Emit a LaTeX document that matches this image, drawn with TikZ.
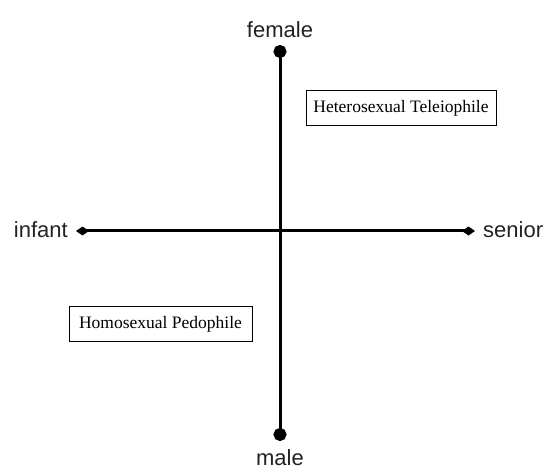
\documentclass[tikz,border=0pt]{standalone}
\usepackage{fontspec}
\setmainfont{Liberation Serif}
\setsansfont{Liberation Sans}
\usetikzlibrary{arrows.meta}
\definecolor{ink}{HTML}{222222}
\begin{document}
\begin{tikzpicture}[x=1pt,y=-1pt,
  axis/.style={line width=3pt},
  lbl/.style={font=\sffamily\fontsize{22}{26}\selectfont, text=ink, inner sep=0pt},
  quad/.style={draw, line width=0.7pt, font=\fontsize{17.5}{20}\selectfont, minimum height=35pt, inner sep=0pt}]
\useasboundingbox (0,0) rectangle (544,468);
\coordinate (top) at (280,45);
\coordinate (bot) at (280,441);
\coordinate (lft) at (76,231);
\coordinate (rgt) at (475,231);
\draw[axis, {Circle[length=13pt]}-{Circle[length=13pt]}] (top) -- (bot);
\draw[axis, {Diamond[length=13pt,width=9pt]}-{Diamond[length=13pt,width=9pt]}] (lft) -- (rgt);
\node[lbl, anchor=base] (female) at (280,38) {female};
\node[lbl, anchor=base] (male) at (280,465) {male};
\node[lbl, anchor=base east] (infant) at (68,237) {infant};
\node[lbl, anchor=base west] (senior) at (483,237) {senior};
\node[quad, minimum width=190pt] (het) at (401,108) {Heterosexual Teleiophile};
\node[quad, minimum width=183pt] (hom) at (160.5,324) {Homosexual Pedophile};
\end{tikzpicture}
\end{document}
